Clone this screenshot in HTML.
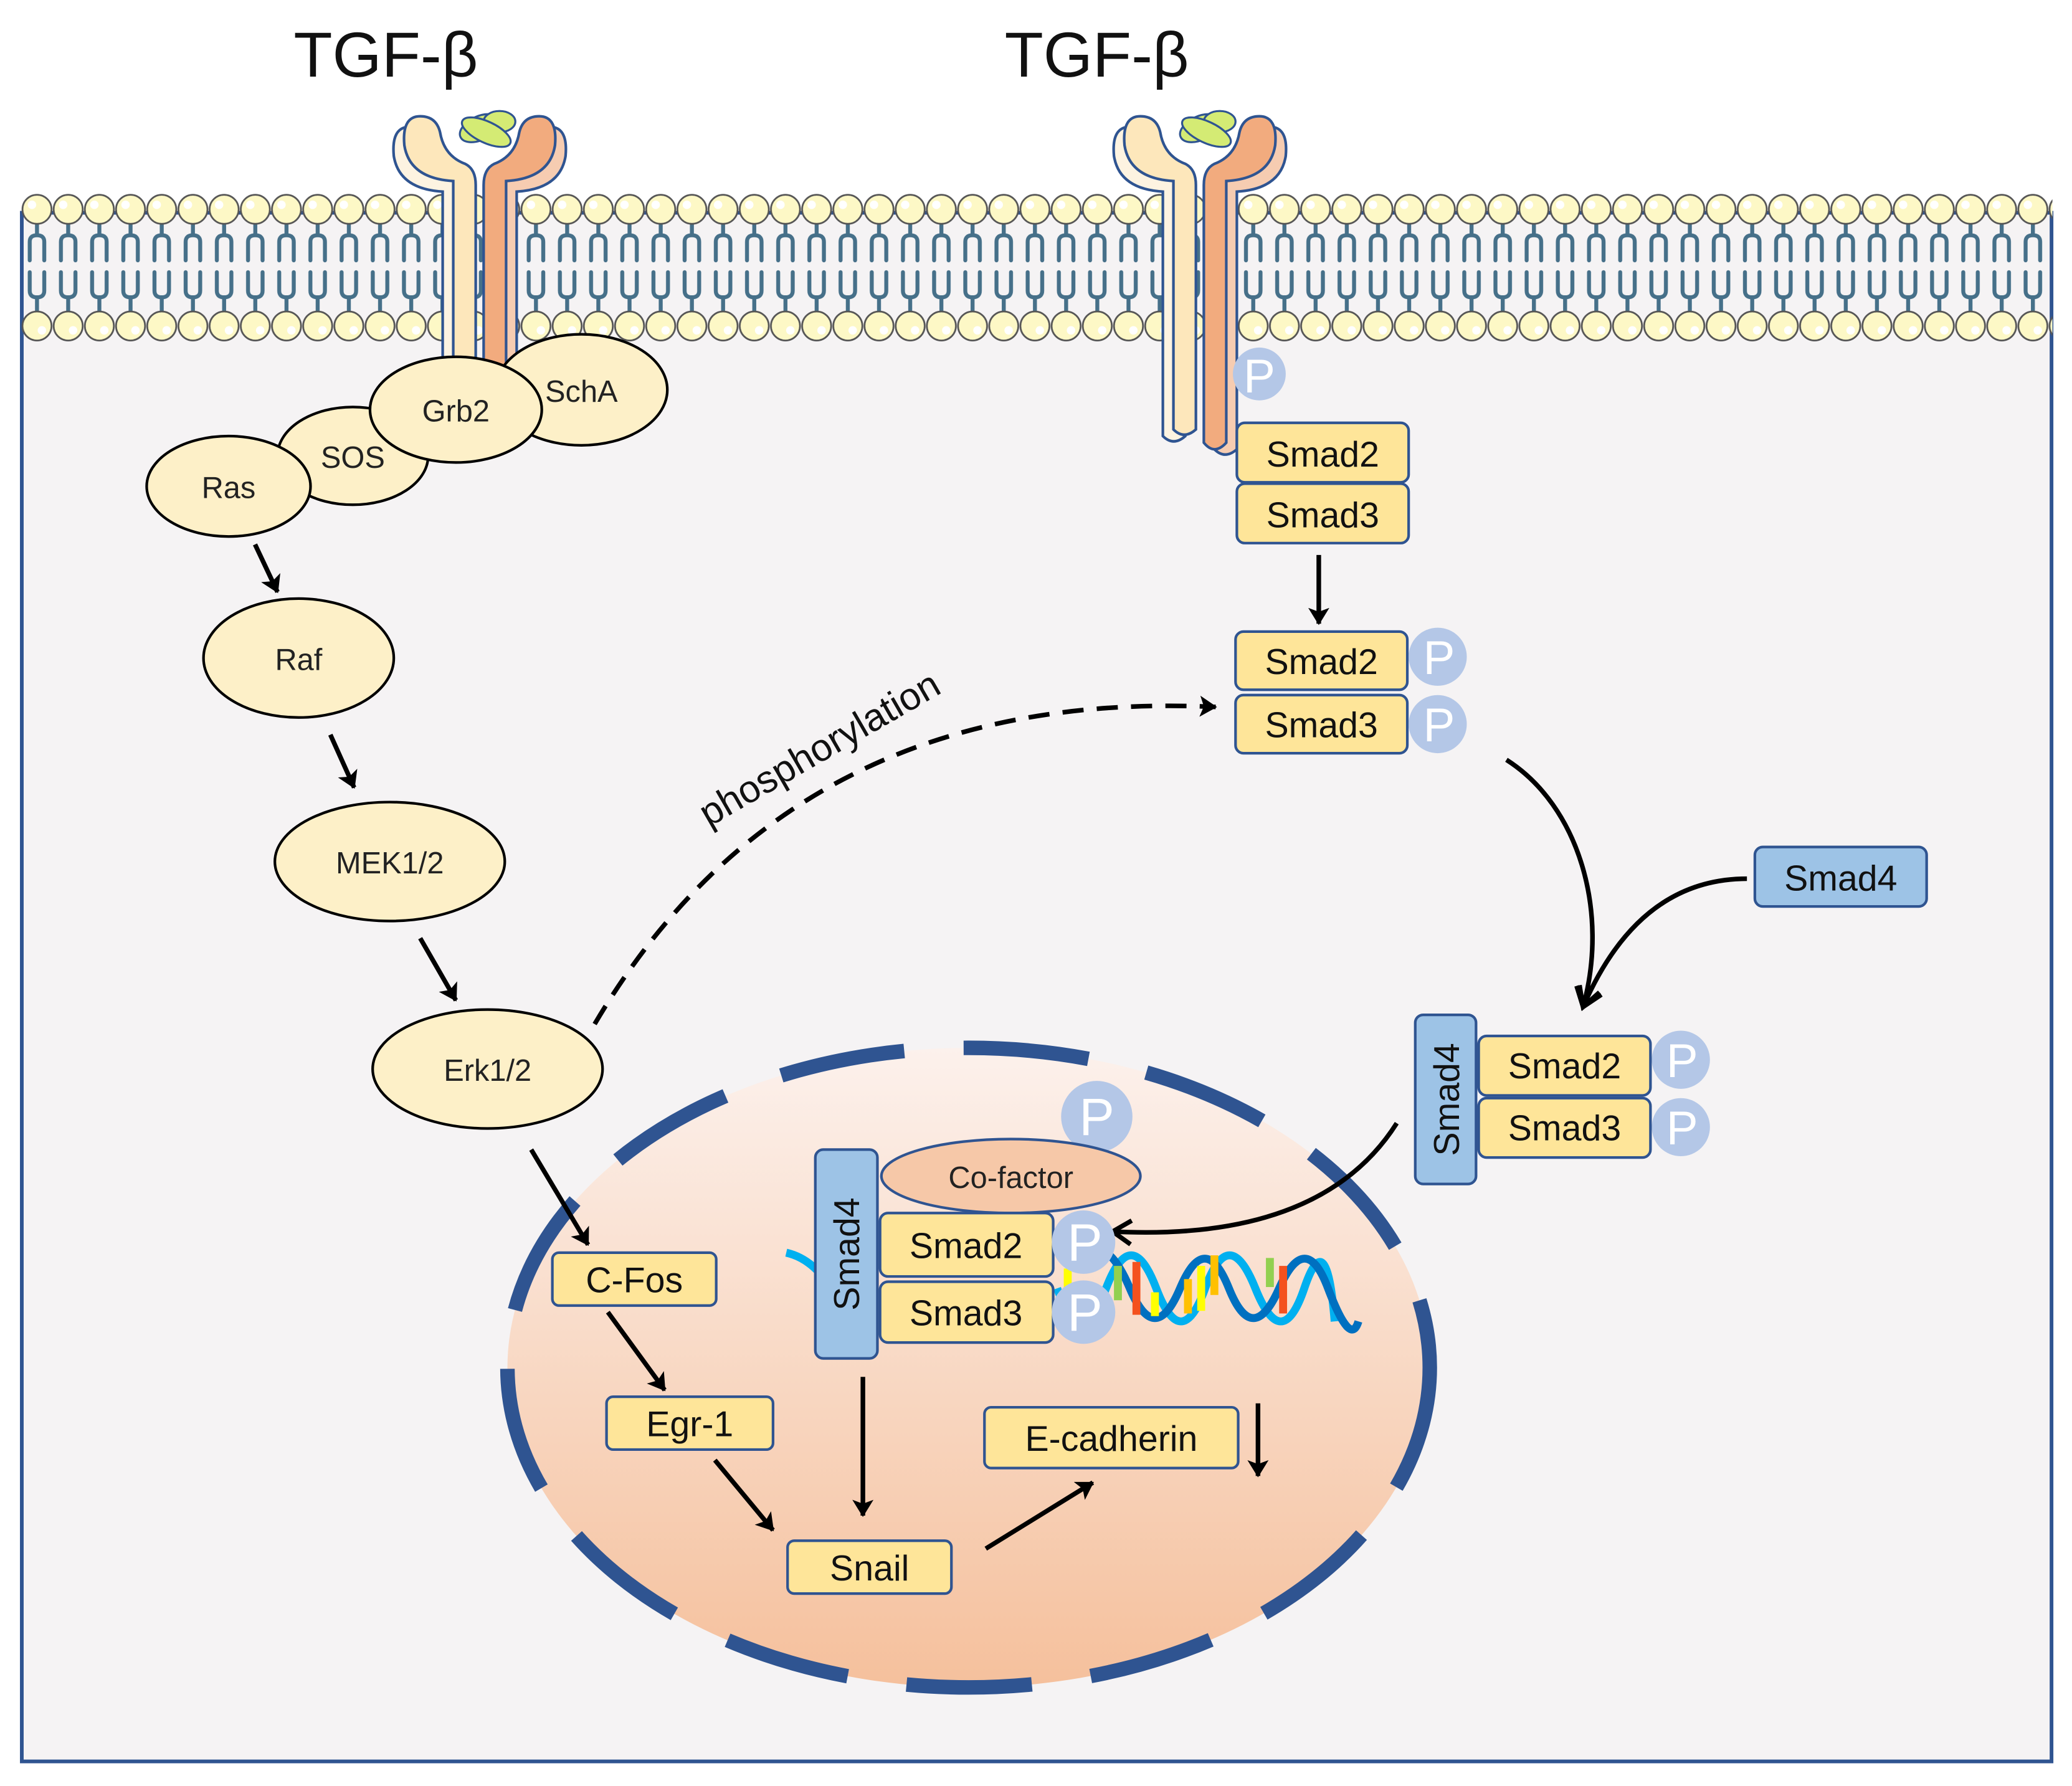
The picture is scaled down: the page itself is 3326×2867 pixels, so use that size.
<!DOCTYPE html>
<html><head><meta charset="utf-8"><style>
html,body{margin:0;padding:0;background:#fff;}
svg{display:block;}
text{font-family:"Liberation Sans",sans-serif;}
</style></head><body>
<svg width="3326" height="2867" viewBox="0 0 1568 1351.6" xmlns="http://www.w3.org/2000/svg">
<defs>
<pattern id="lip" x="16.2" y="145" width="23.6" height="115" patternUnits="userSpaceOnUse">
  <g stroke="#467089" stroke-width="3" fill="none" stroke-linecap="round">
    <line x1="11.8" y1="20" x2="11.8" y2="32"/>
    <path d="M6.3 52 V38 Q6.3 33 11.8 33 Q17.3 33 17.3 38 V52"/>
    <path d="M6.3 61 V75 Q6.3 80 11.8 80 Q17.3 80 17.3 75 V61"/>
    <line x1="11.8" y1="80" x2="11.8" y2="92"/>
  </g>
  <circle cx="11.8" cy="13.4" r="11" fill="#fdf8c6" stroke="#555" stroke-width="1.3"/>
  <circle cx="8" cy="10" r="3.2" fill="#fff"/>
  <circle cx="11.8" cy="101.7" r="11" fill="#fdf8c6" stroke="#555" stroke-width="1.3"/>
  <circle cx="15.5" cy="105" r="3.2" fill="#fff"/>
</pattern>
<linearGradient id="nuc" x1="0" y1="0" x2="0" y2="1">
  <stop offset="0" stop-color="#fcf1ec"/>
  <stop offset="1" stop-color="#f5c09c"/>
</linearGradient>
<clipPath id="clipL"><rect x="0" y="0" width="1568" height="282"/></clipPath>
<marker id="ah" markerWidth="16" markerHeight="16" refX="12" refY="8" orient="auto" markerUnits="userSpaceOnUse">
  <path d="M0,0 L13,8 L0,16 L3,8 Z" fill="#000"/>
</marker>
<marker id="ao" markerWidth="22" markerHeight="22" refX="16" refY="11" orient="auto" markerUnits="userSpaceOnUse">
  <path d="M2,2 L16,11 L2,20" fill="none" stroke="#000" stroke-width="3.5"/>
</marker>
<g id="rec">
  <path transform="translate(-8,8)" d="M343,322 L343,137 Q310,135 306,110 Q304,88 318,88 Q330,88 333,100 Q336,118 352,124 Q360,128 360,140 L360,322 Q351,330 343,322 Z" fill="#fdf3e1" stroke="#2f5491" stroke-width="2"/>
  <path transform="translate(8,8)" d="M383,332 L383,137 Q416,135 420,110 Q422,88 408,88 Q396,88 393,100 Q390,118 374,124 Q366,128 366,140 L366,332 Q374,340 383,332 Z" fill="#f6ccb1" stroke="#2f5491" stroke-width="2"/>
  <ellipse cx="363" cy="97" rx="16" ry="9" transform="rotate(-25 363 97)" fill="#d4eb74" stroke="#2f5491" stroke-width="1.5"/>
  <ellipse cx="378" cy="92" rx="12" ry="8" fill="#d4eb74" stroke="#2f5491" stroke-width="1.5"/>
  <path d="M343,325 L343,137 Q310,135 306,110 Q304,88 318,88 Q330,88 333,100 Q336,118 352,124 Q360,128 360,140 L360,325 Q351,333 343,325 Z" fill="#fde7bb" stroke="#2f5491" stroke-width="2"/>
  <path d="M383,335 L383,137 Q416,135 420,110 Q422,88 408,88 Q396,88 393,100 Q390,118 374,124 Q366,128 366,140 L366,335 Q374,345 383,335 Z" fill="#f2ab7e" stroke="#2f5491" stroke-width="2"/>
  <ellipse cx="368" cy="100" rx="20" ry="8" transform="rotate(25 368 100)" fill="#d4eb74" stroke="#2f5491" stroke-width="1.5"/>
</g>
</defs>

<rect x="16.5" y="161" width="1536" height="1172" fill="#f5f3f4" stroke="#2f5491" stroke-width="2.8"/>
<rect x="16.2" y="145" width="1537" height="115" fill="url(#lip)"/>

<text x="292" y="58" font-size="48" text-anchor="middle" fill="#111">TGF-β</text>
<text x="830" y="58" font-size="48" text-anchor="middle" fill="#111">TGF-β</text>

<use href="#rec" clip-path="url(#clipL)"/>
<use href="#rec" transform="translate(545,0)"/>

<g stroke="#000" stroke-width="2" fill="#fdf0c8">
<ellipse cx="440" cy="295" rx="65" ry="42"/>
<ellipse cx="267" cy="345" rx="57" ry="37"/>
<ellipse cx="345" cy="310" rx="65" ry="40"/>
<ellipse cx="173" cy="368" rx="62" ry="38"/>
<ellipse cx="226" cy="498" rx="72" ry="45"/>
<ellipse cx="295" cy="652" rx="87" ry="45"/>
<ellipse cx="369" cy="809" rx="87" ry="45"/>
</g>
<g font-size="23" text-anchor="middle" fill="#222">
<text x="440" y="304">SchA</text>
<text x="267" y="354">SOS</text>
<text x="345" y="319">Grb2</text>
<text x="173" y="377">Ras</text>
<text x="226" y="507">Raf</text>
<text x="295" y="661">MEK1/2</text>
<text x="369" y="818">Erk1/2</text>
</g>

<g stroke="#000" stroke-width="3.5" fill="none" marker-end="url(#ah)">
<line x1="193" y1="412" x2="210" y2="448"/>
<line x1="250" y1="556" x2="268" y2="596"/>
<line x1="318" y1="710" x2="345" y2="757"/>
<line x1="998" y1="420" x2="998" y2="472"/>
</g>
<path d="M450,775 Q600,520 920,535" stroke="#000" stroke-width="3.5" fill="none" stroke-dasharray="16,10" marker-end="url(#ah)"/>
<text x="625" y="575" font-size="29" text-anchor="middle" fill="#111" transform="rotate(-30 625 575)">phosphorylation</text>

<ellipse cx="733" cy="1035" rx="349" ry="242" fill="url(#nuc)" stroke="#2f5491" stroke-width="11" stroke-dasharray="95,45"/>

<g stroke="#2f5491" stroke-width="2">
<circle cx="953" cy="283" r="20" fill="#b4c7e7" stroke="none"/>
<rect x="936" y="320" width="130" height="45" rx="6" fill="#fee599"/>
<rect x="936" y="366" width="130" height="45" rx="6" fill="#fee599"/>
<rect x="935" y="478" width="130" height="44" rx="6" fill="#fee599"/>
<rect x="935" y="526" width="130" height="44" rx="6" fill="#fee599"/>
<circle cx="1088" cy="497" r="22" fill="#b4c7e7" stroke="none"/>
<circle cx="1088" cy="548" r="22" fill="#b4c7e7" stroke="none"/>
<rect x="1328" y="641" width="130" height="45" rx="6" fill="#9dc3e6"/>
<rect x="1071" y="768" width="46" height="128" rx="6" fill="#9dc3e6"/>
<rect x="1119" y="784" width="130" height="45" rx="6" fill="#fee599"/>
<rect x="1119" y="831" width="130" height="45" rx="6" fill="#fee599"/>
<circle cx="1272" cy="802" r="22" fill="#b4c7e7" stroke="none"/>
<circle cx="1272" cy="853" r="22" fill="#b4c7e7" stroke="none"/>
</g>
<g font-size="27" text-anchor="middle" fill="#111">
<text x="1001" y="353">Smad2</text>
<text x="1001" y="399">Smad3</text>
<text x="1000" y="510">Smad2</text>
<text x="1000" y="558">Smad3</text>
<text x="1393" y="674">Smad4</text>
<text x="1184" y="816">Smad2</text>
<text x="1184" y="863">Smad3</text>
<text x="1094" y="832" transform="rotate(-90 1094 832)" dy="10">Smad4</text>
</g>
<g font-size="36" text-anchor="middle" fill="#fff">
<text x="953" y="297">P</text>
<text x="1089" y="510">P</text>
<text x="1089" y="561">P</text>
<text x="1273" y="815">P</text>
<text x="1273" y="866">P</text>
</g>

<g stroke="#000" stroke-width="3.5" fill="none" marker-end="url(#ao)">
<path d="M1140,575 C1195,610 1218,690 1198,762"/>
<path d="M1322,665 Q1240,665 1198,762"/>
<path d="M1057,850 Q1000,940 842,932"/>
</g>

<!-- DNA -->
<g fill="none" stroke-width="6">
<path d="M595,948 Q625,955 640,1000" stroke="#00b0f0"/>
<path d="M800,975 Q818,1025 837,975 T875,975 T912,975 T950,975 T987,975 T1010,1000" stroke="#00b0f0"/>
<path d="M800,955 Q818,930 837,975 T875,975 T912,975 T950,975 T987,975 T1010,1000" stroke="#0070c0" transform="translate(18,0)"/>
</g>
<g>
<rect x="805" y="960" width="6" height="18" fill="#ffff00"/>
<rect x="843" y="958" width="6" height="26" fill="#92d050"/>
<rect x="857" y="955" width="6" height="40" fill="#f4511e"/>
<rect x="871" y="978" width="6" height="18" fill="#ffff00"/>
<rect x="896" y="968" width="6" height="26" fill="#ffc000"/>
<rect x="906" y="958" width="6" height="34" fill="#ffff00"/>
<rect x="916" y="950" width="6" height="30" fill="#ffc000"/>
<rect x="958" y="952" width="6" height="22" fill="#92d050"/>
<rect x="968" y="958" width="6" height="36" fill="#f4511e"/>
</g>

<g stroke="#2f5491" stroke-width="2">
<circle cx="830" cy="845" r="27" fill="#b4c7e7" stroke="none"/>
<ellipse cx="765" cy="890" rx="98" ry="28" fill="#f6c8a8"/>
<rect x="617" y="870" width="47" height="158" rx="6" fill="#9dc3e6"/>
<rect x="666" y="918" width="131" height="48" rx="6" fill="#fee599"/>
<rect x="666" y="970" width="131" height="46" rx="6" fill="#fee599"/>
<circle cx="820" cy="940" r="24" fill="#b4c7e7" stroke="none"/>
<circle cx="820" cy="993" r="24" fill="#b4c7e7" stroke="none"/>
<rect x="418" y="948" width="124" height="40" rx="5" fill="#fee599"/>
<rect x="459" y="1057" width="126" height="40" rx="5" fill="#fee599"/>
<rect x="596" y="1166" width="124" height="40" rx="5" fill="#fee599"/>
<rect x="745" y="1065" width="192" height="46" rx="5" fill="#fee599"/>
</g>
<g font-size="27" text-anchor="middle" fill="#111">
<text x="731" y="952">Smad2</text>
<text x="731" y="1003">Smad3</text>
<text x="640" y="949" transform="rotate(-90 640 949)" dy="10">Smad4</text>
<text x="480" y="978">C-Fos</text>
<text x="522" y="1087">Egr-1</text>
<text x="658" y="1196">Snail</text>
<text x="841" y="1098">E-cadherin</text>
</g>
<text x="765" y="899" font-size="23" text-anchor="middle" fill="#222">Co-factor</text>
<g font-size="40" text-anchor="middle" fill="#fff">
<text x="830" y="859">P</text>
<text x="821" y="954">P</text>
<text x="821" y="1007">P</text>
</g>

<g stroke="#000" stroke-width="3.5" fill="none" marker-end="url(#ah)">
<line x1="402" y1="870" x2="445" y2="942"/>
<line x1="460" y1="993" x2="503" y2="1052"/>
<line x1="541" y1="1105" x2="585" y2="1158"/>
<line x1="653" y1="1042" x2="653" y2="1147"/>
<line x1="746" y1="1172" x2="827" y2="1122"/>
<line x1="952" y1="1062" x2="952" y2="1117"/>
</g>
</svg>
</body></html>
